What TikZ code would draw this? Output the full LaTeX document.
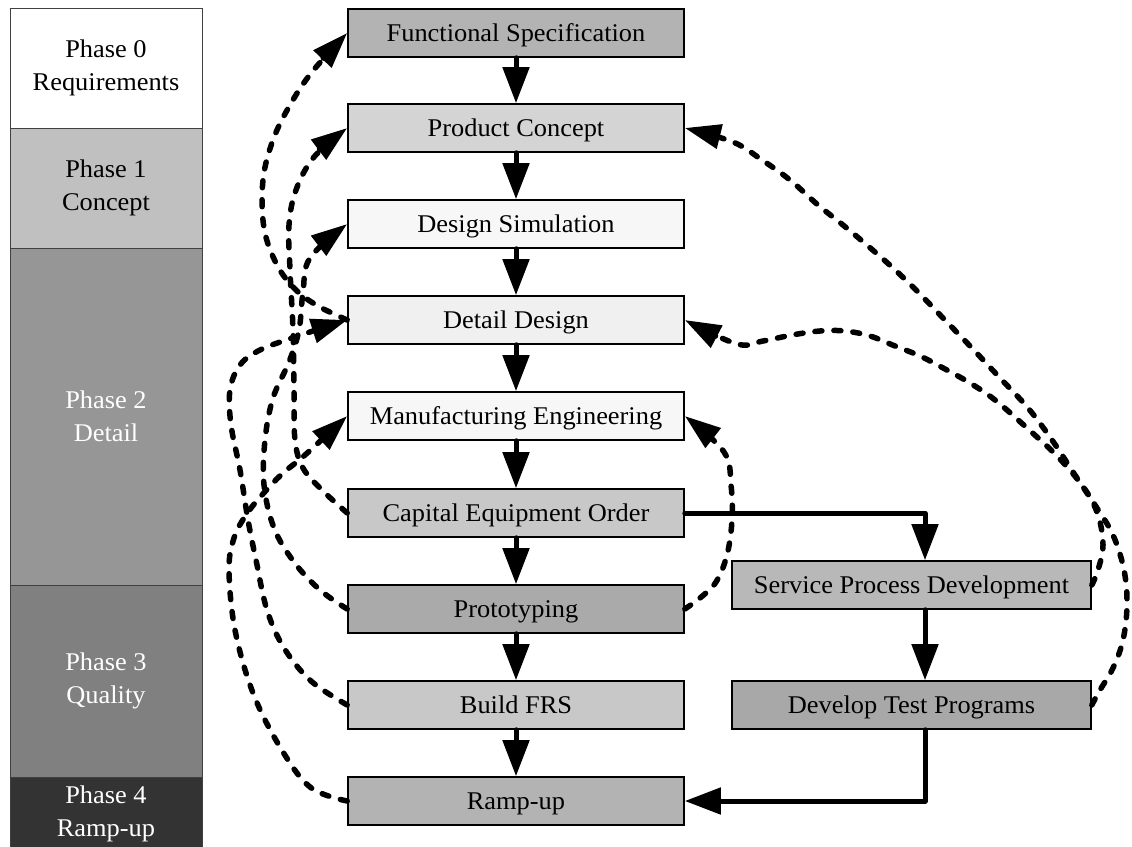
\documentclass[tikz,border=0pt]{standalone}
\usepackage{fontspec}
\setmainfont{Liberation Serif}[FakeStretch=1.035]
\usetikzlibrary{arrows.meta}
\definecolor{gfs}{HTML}{B3B3B3}
\definecolor{gpc}{HTML}{D4D4D4}
\definecolor{gds}{HTML}{F7F7F7}
\definecolor{gdd}{HTML}{F0F0F0}
\definecolor{gmf}{HTML}{F7F7F7}
\definecolor{gce}{HTML}{C8C8C8}
\definecolor{gpr}{HTML}{AAAAAA}
\definecolor{gbf}{HTML}{C8C8C8}
\definecolor{gru}{HTML}{B3B3B3}
\definecolor{gsp}{HTML}{B8B8B8}
\definecolor{gdt}{HTML}{A8A8A8}
\definecolor{ph1}{HTML}{C0C0C0}
\definecolor{ph2}{HTML}{969696}
\definecolor{ph3}{HTML}{808080}
\definecolor{ph4}{HTML}{333333}
\begin{document}
\begin{tikzpicture}[x=1pt,y=-1pt,
  box/.style={draw=black, line width=1.6pt, minimum width=336pt, minimum height=48pt,
    inner sep=0pt, text height=19pt, text depth=3pt, font=\fontsize{25.5}{30}\selectfont},
  rbox/.style={box, minimum width=359pt},
  phase/.style={draw=black!75, line width=1pt, minimum width=192pt, inner sep=0pt,
    align=center, font=\fontsize{25.5}{33}\selectfont},
  flow/.style={line width=5pt, line cap=round, line join=round, -{Triangle[length=36pt,width=26pt]}},
  fb/.style={line width=5.5pt, line cap=round, dash pattern=on 7pt off 12pt,
    -{Triangle[length=36pt,width=24pt]}},
]
\useasboundingbox (0,0) rectangle (1132,846);
% phases
\node[phase, fill=white, minimum height=120pt] (p0) at (106,68) {Phase 0\\Requirements};
\node[phase, fill=ph1, minimum height=120pt] (p1) at (106,188) {Phase 1\\Concept};
\node[phase, fill=ph2, minimum height=337pt, text=white] (p2) at (106,416.5) {Phase 2\\Detail};
\node[phase, fill=ph3, minimum height=192pt, text=white] (p3) at (106,681) {Phase 3\\Quality};
\node[phase, fill=ph4, minimum height=73pt, text=white] (p4) at (106,813.5) {Phase 4\\Ramp-up};
% main column
\node[box, fill=gfs] (fs) at (516,33) {Functional Specification};
\node[box, fill=gpc] (pc) at (516,128) {Product Concept};
\node[box, fill=gds] (dsim) at (516,224) {Design Simulation};
\node[box, fill=gdd] (dd) at (516,320) {Detail Design};
\node[box, fill=gmf] (mfg) at (516,416) {Manufacturing Engineering};
\node[box, fill=gce] (ceo) at (516,513) {Capital Equipment Order};
\node[box, fill=gpr] (proto) at (516,609) {Prototyping};
\node[box, fill=gbf] (bfrs) at (516,705) {Build FRS};
\node[box, fill=gru] (ramp) at (516,801) {Ramp-up};
% right column
\node[rbox, fill=gsp] (spd) at (911.5,585) {Service Process Development};
\node[rbox, fill=gdt] (dtp) at (911.5,705) {Develop Test Programs};
% solid flow
\draw[flow] (fs) -- (pc);
\draw[flow] (pc) -- (dsim);
\draw[flow] (dsim) -- (dd);
\draw[flow] (dd) -- (mfg);
\draw[flow] (mfg) -- (ceo);
\draw[flow] (ceo) -- (proto);
\draw[flow] (proto) -- (bfrs);
\draw[flow] (bfrs) -- (ramp);
\draw[flow] (ceo.east) -| ([xshift=13.5pt]spd.north);
\draw[flow] ([xshift=13.5pt]spd.south) -- ([xshift=13.5pt]dtp.north);
\draw[flow] ([xshift=13.5pt]dtp.south) |- (ramp.east);
% feedback, left
\draw[fb] plot[smooth, tension=0.6] coordinates {(dd.west) (318,306) (296,290) (277,265) (264,228) (263,180) (273,140) (290,105) (312,72) (fs.west)};
\draw[fb] plot[smooth, tension=0.6] coordinates {(ceo.west) (322,490) (303,468) (295,440) (294,390) (293,330) (290,270) (289,225) (296,190) (314,157) (pc.west)};
\draw[fb] plot[smooth, tension=0.6] coordinates {(proto.west) (320,590) (294,562) (274,528) (264,485) (265,440) (273,398) (289,362) (299,330) (303,292) (310,258) (dsim.west)};
\draw[fb] plot[smooth, tension=0.6] coordinates {(bfrs.west) (311,681) (284,648) (267,610) (256,560) (248,520) (240,470) (231,425) (230,390) (240,365) (260,350) (295,337) (dd.west)};
\draw[fb] plot[smooth, tension=0.6] coordinates {(ramp.west) (310,787) (280,747) (253,693) (235,630) (229,570) (234,538) (246,515) (262,495) (282,474) (305,455) (mfg.west)};
% feedback, right
\draw[fb] plot[smooth, tension=0.6] coordinates {(proto.east) (700,598) (716,582) (727,555) (732,520) (731,485) (724,452) (mfg.east)};
\draw[fb] plot[smooth, tension=0.6] coordinates {(spd.east) (1098,570) (1103,545) (1098,515) (1084,488) (1058,457) (1027,428) (995,400) (970,383) (945,369) (920,356) (895,346) (870,336) (845,331) (820,331) (792,335) (763,341) (737,344) (dd.east)};
\draw[fb] plot[smooth, tension=0.6] coordinates {(dtp.east) (1100,690) (1113,668) (1123,640) (1127,605) (1124,570) (1113,535) (1095,505) (1075,475) (1052,440) (1028,408) (1000,378) (970,346) (943,318) (918,292) (893,268) (868,246) (843,225) (818,205) (790,180) (762,160) (733,142) (pc.east)};
\end{tikzpicture}
\end{document}
